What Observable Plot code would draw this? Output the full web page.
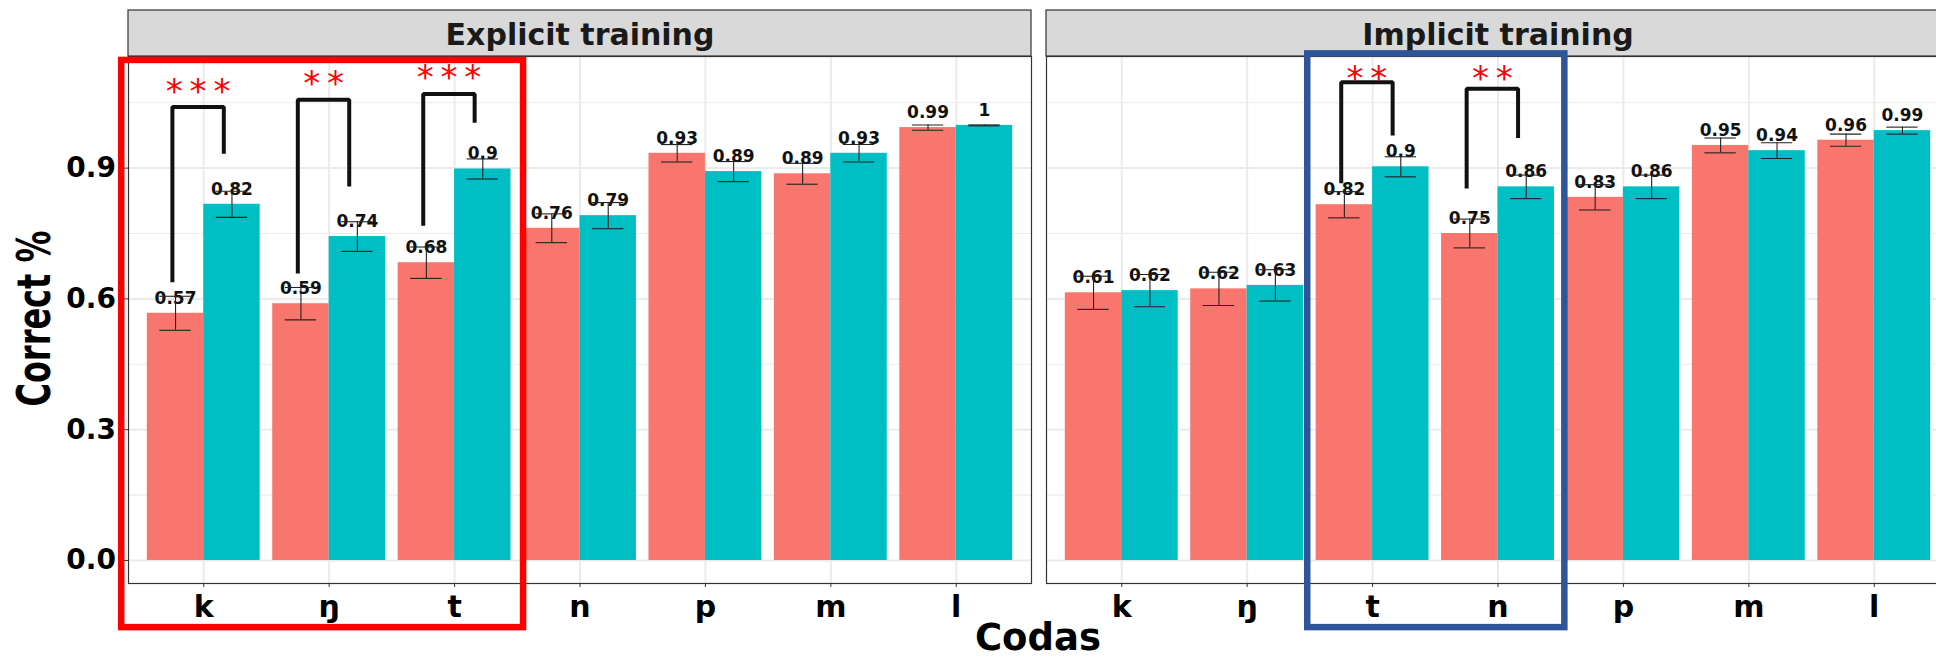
<!DOCTYPE html>
<html><head><meta charset="utf-8">
<script src="https://cdn.jsdelivr.net/npm/d3@7"></script>
<script src="https://cdn.jsdelivr.net/npm/@observablehq/plot@0.6"></script>
<style>
html,body{margin:0;padding:0;overflow:hidden;background:#fff;}
#wrap{position:relative;width:1936px;height:660px;overflow:hidden;}
#chart svg{max-width:none !important;display:block;}
#overlay{position:absolute;left:0;top:0;pointer-events:none;}
</style></head><body>
<div id="wrap"><div id="chart"></div>
<svg id="overlay" width="1936" height="660">
  <text x="1038" y="650" text-anchor="middle" font-family="DejaVu Sans" font-weight="bold" font-size="37" fill="#000">Codas</text>
  <text transform="translate(50,318.5) rotate(-90) scale(1,1.45)" text-anchor="middle" font-family="DejaVu Sans" font-weight="bold" font-size="32" fill="#000">Correct %</text>
</svg></div>
<script>
// ---- data ----
const codas = ["k", "ŋ", "t", "n", "p", "m", "l"];
const trainings = ["Explicit training", "Implicit training"];
const groups = ["Pre", "Post"];
const yTicks = [0, 0.3, 0.6, 0.9];
const yMinorTicks = [0.15, 0.45, 0.75, 1.05];

const explicitPre    = [0.567, 0.589, 0.683, 0.762, 0.934, 0.887, 0.993];
const explicitPreSE  = [0.039, 0.037, 0.036, 0.033, 0.020, 0.024, 0.006];
const explicitPost   = [0.817, 0.743, 0.898, 0.791, 0.892, 0.934, 0.998];
const explicitPostSE = [0.030, 0.034, 0.023, 0.030, 0.023, 0.020, 0.001];
const implicitPre    = [0.614, 0.623, 0.816, 0.750, 0.833, 0.952, 0.964];
const implicitPreSE  = [0.038, 0.038, 0.030, 0.033, 0.029, 0.017, 0.014];
const implicitPost   = [0.619, 0.631, 0.903, 0.857, 0.857, 0.940, 0.986];
const implicitPostSE = [0.037, 0.036, 0.023, 0.027, 0.027, 0.018, 0.008];

// significance brackets
const bracketTraining = ["Explicit training", "Explicit training", "Explicit training", "Implicit training", "Implicit training"];
const bracketCoda     = ["k", "ŋ", "t", "t", "n"];
const bracketTop      = [1.040, 1.057, 1.070, 1.097, 1.082];
const bracketLeftEnd  = [0.638, 0.658, 0.768, 0.865, 0.853];
const bracketRightEnd = [0.933, 0.858, 1.004, 0.975, 0.969];
const bracketStars    = ["***", "**", "***", "**", "**"];
const starLevel       = [1.086, 1.105, 1.119, 1.116, 1.116];

// highlighted coda ranges
const boxTraining = ["Explicit training", "Implicit training"];
const boxFrom     = ["k", "t"];
const boxTo       = ["t", "n"];

// ---- build tables ----
const half = 0.225;
const series = {
  "Explicit training": [[explicitPre, explicitPreSE], [explicitPost, explicitPostSE]],
  "Implicit training": [[implicitPre, implicitPreSE], [implicitPost, implicitPostSE]]
};
const rows = [];
for (const tr of trainings) {
  series[tr].forEach(([means, ses], g) => {
    means.forEach((m, i) => {
      const c = i + (g === 0 ? -half : half);
      rows.push({training: tr, group: groups[g], i, c, mean: m, se: ses[i],
                 label: String(+m.toFixed(2))});
    });
  });
}
const fmtIdx = c => codas.indexOf(c);
const LEFT = -0.25, RIGHT = 0.16;
const bracketPts = [];
const starRows = [];
bracketCoda.forEach((cd, b) => {
  const i = fmtIdx(cd);
  const tr = bracketTraining[b];
  bracketPts.push({b, training: tr, x: i + LEFT, y: bracketLeftEnd[b]});
  bracketPts.push({b, training: tr, x: i + LEFT, y: bracketTop[b]});
  bracketPts.push({b, training: tr, x: i + RIGHT, y: bracketTop[b]});
  bracketPts.push({b, training: tr, x: i + RIGHT, y: bracketRightEnd[b]});
  starRows.push({training: tr, x: i + (LEFT + RIGHT) / 2, y: starLevel[b], text: bracketStars[b]});
});
const boxStyle = [
  {color: "#FF0000", padL: 0.654, padR: 0.55, top: 1.147},
  {color: "#2E5597", padL: 0.517, padR: 0.533, top: 1.162}
];
const boxMarks = boxTraining.map((tr, k) => Plot.rect([{training: tr}], {
  fx: "training",
  x1: fmtIdx(boxFrom[k]) - boxStyle[k].padL,
  x2: fmtIdx(boxTo[k]) + boxStyle[k].padR,
  y1: -0.154, y2: boxStyle[k].top,
  fill: "none", stroke: boxStyle[k].color, strokeWidth: 6.5
}));

const gridColor = "#EBEBEB";
const font = "DejaVu Sans";
const stripBottom = 1.156, stripTop = 1.2615;

const chart = Plot.plot({
  width: 1949, height: 660,
  marginLeft: 127.6, marginRight: 0, marginTop: 56, marginBottom: 77,
  style: {fontFamily: font, background: "#fff", overflow: "visible", maxWidth: "none"},
  fx: {domain: trainings, padding: 15 / 918, paddingInner: 15 / 918, paddingOuter: 0, axis: null, label: null},
  x: {domain: [-0.6, 6.6], label: null},
  y: {domain: [-0.0528, stripBottom], label: null},
  color: {domain: groups, range: ["#F8766D", "#00BFC4"]},
  marks: [
    Plot.gridY(yMinorTicks, {stroke: gridColor, strokeOpacity: 1, strokeWidth: 1.1}),
    Plot.gridY(yTicks, {stroke: gridColor, strokeOpacity: 1, strokeWidth: 2}),
    Plot.gridX(d3.range(codas.length), {stroke: gridColor, strokeOpacity: 1, strokeWidth: 2}),
    Plot.rectY(rows, {fx: "training", x1: d => d.c - half, x2: d => d.c + half, y1: 0, y2: "mean", fill: "group", inset: 0}),
    Plot.text(rows, {fx: "training", x: "c", y: "mean", text: "label", dy: -15, fontSize: 17, fontWeight: "bold", fontFamily: font, fill: "#111"}),
    Plot.ruleX(rows, {fx: "training", x: "c", y1: d => d.mean - d.se, y2: d => d.mean + d.se, stroke: "#222", strokeWidth: 1.1}),
    Plot.ruleY(rows, {fx: "training", y: d => d.mean - d.se, x1: d => d.c - 0.125, x2: d => d.c + 0.125, stroke: "#222", strokeWidth: 1.1}),
    Plot.ruleY(rows, {fx: "training", y: d => d.mean + d.se, x1: d => d.c - 0.125, x2: d => d.c + 0.125, stroke: "#222", strokeWidth: 1.1}),
    Plot.frame({stroke: "#333", strokeWidth: 1.2}),
    Plot.rect(trainings, {fx: d => d, x1: -0.6, x2: 6.6, y1: stripBottom, y2: stripTop, fill: "#D9D9D9", stroke: "#333", strokeWidth: 1.2}),
    Plot.text(trainings, {fx: d => d, x: 3, y: (stripBottom + stripTop) / 2, text: d => d, dy: 2, fontSize: 30, fontWeight: "bold", fontFamily: font, fill: "#1A1A1A"}),
    Plot.axisY(yTicks, {tickFormat: d => d.toFixed(1), tickSize: 4, tickPadding: 8.6, fontSize: 28, fontWeight: "bold", fontFamily: font, stroke: "#333", fill: "#000", label: null}),
    Plot.axisX(d3.range(codas.length), {tickFormat: i => codas[i], tickSize: 4, tickPadding: 8, fontSize: 30, fontWeight: "bold", fontFamily: font, stroke: "#333", fill: "#000", label: null}),
    Plot.line(bracketPts, {fx: "training", x: "x", y: "y", z: "b", stroke: "#111", strokeWidth: 4, strokeLinejoin: "miter", strokeLinecap: "butt"}),
    Plot.text(starRows, {fx: "training", x: "x", y: "y", text: d => d.text.split("").join("\u2009"), dy: 5, fontSize: 34, fontFamily: font, fill: "#FF0000"}),
    ...boxMarks
  ]
});
document.getElementById("chart").appendChild(chart);
</script>
</body></html>
